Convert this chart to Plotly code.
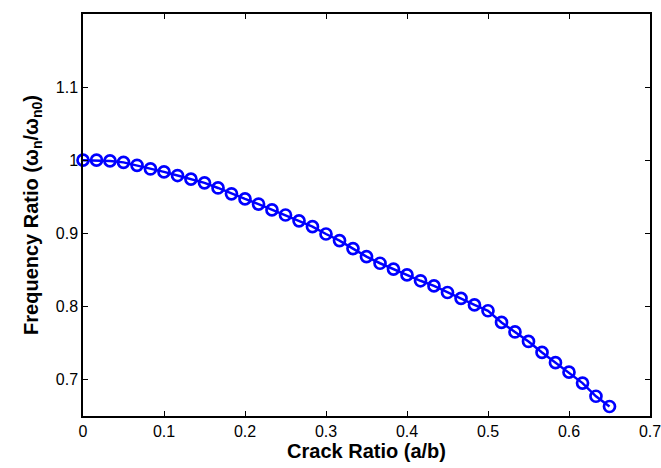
import plotly.graph_objects as go

crack_ratio = [0.0, 0.0167, 0.0333, 0.05, 0.0667, 0.0833, 0.1, 0.1167, 0.1333, 0.15,
               0.1667, 0.1833, 0.2, 0.2167, 0.2333, 0.25, 0.2667, 0.2833, 0.3, 0.3167,
               0.3333, 0.35, 0.3667, 0.3833, 0.4, 0.4167, 0.4333, 0.45, 0.4667, 0.4833,
               0.5, 0.5167, 0.5333, 0.55, 0.5667, 0.5833, 0.6, 0.6167, 0.6333, 0.65]
freq_ratio = [1.000, 1.000, 0.999, 0.997, 0.993, 0.988, 0.984, 0.979, 0.974, 0.969,
              0.962, 0.954, 0.947, 0.940, 0.932, 0.925, 0.917, 0.909, 0.899, 0.890,
              0.879, 0.868, 0.859, 0.851, 0.843, 0.835, 0.828, 0.819, 0.811, 0.802,
              0.794, 0.778, 0.765, 0.752, 0.737, 0.723, 0.710, 0.695, 0.677, 0.663]

x_tickvals = [0, 0.1, 0.2, 0.3, 0.4, 0.5, 0.6, 0.7]
x_ticktext = ["0", "0.1", "0.2", "0.3", "0.4", "0.5", "0.6", "0.7"]
y_tickvals = [0.7, 0.8, 0.9, 1.0, 1.1]
y_ticktext = ["0.7", "0.8", "0.9", "1", "1.1"]

fig = go.Figure()
fig.add_trace(go.Scatter(
    x=crack_ratio, y=freq_ratio, mode="lines+markers",
    line=dict(color="#0000FF", width=2.5),
    marker=dict(symbol="circle-open", size=11, color="#0000FF",
                line=dict(color="#0000FF", width=2.7)),
    showlegend=False, cliponaxis=False,
))

font_family = "Liberation Sans, Arial, sans-serif"
fig.update_layout(
    width=661, height=468,
    margin=dict(l=83, r=9, t=14, b=52),
    paper_bgcolor="white", plot_bgcolor="white",
    font=dict(family=font_family, color="black"),
    xaxis=dict(
        range=[0, 0.7], tickvals=x_tickvals, ticktext=x_ticktext,
        ticks="inside", ticklen=5, tickwidth=1, tickcolor="black",
        showline=True, linecolor="black", linewidth=1.5, mirror="ticks",
        showgrid=False, zeroline=False, ticklabeloverflow="allow",
        automargin="bottom",
        tickfont=dict(size=16, family=font_family),
        title=dict(text="<b>Crack Ratio (a/b)</b>", font=dict(size=20, family=font_family), standoff=4),
    ),
    yaxis=dict(
        range=[0.65, 1.2], tickvals=y_tickvals, ticktext=y_ticktext,
        ticks="inside", ticklen=5, tickwidth=1, tickcolor="black",
        showline=True, linecolor="black", linewidth=1.5, mirror="ticks",
        showgrid=False, zeroline=False,
        tickfont=dict(size=16, family=font_family),
        title=dict(text="<b>Frequency Ratio (ω<sub>n</sub>/ω<sub>n0</sub>)</b>",
                   font=dict(size=20, family=font_family), standoff=12),
    ),
)

fig.write_html("out.html")
